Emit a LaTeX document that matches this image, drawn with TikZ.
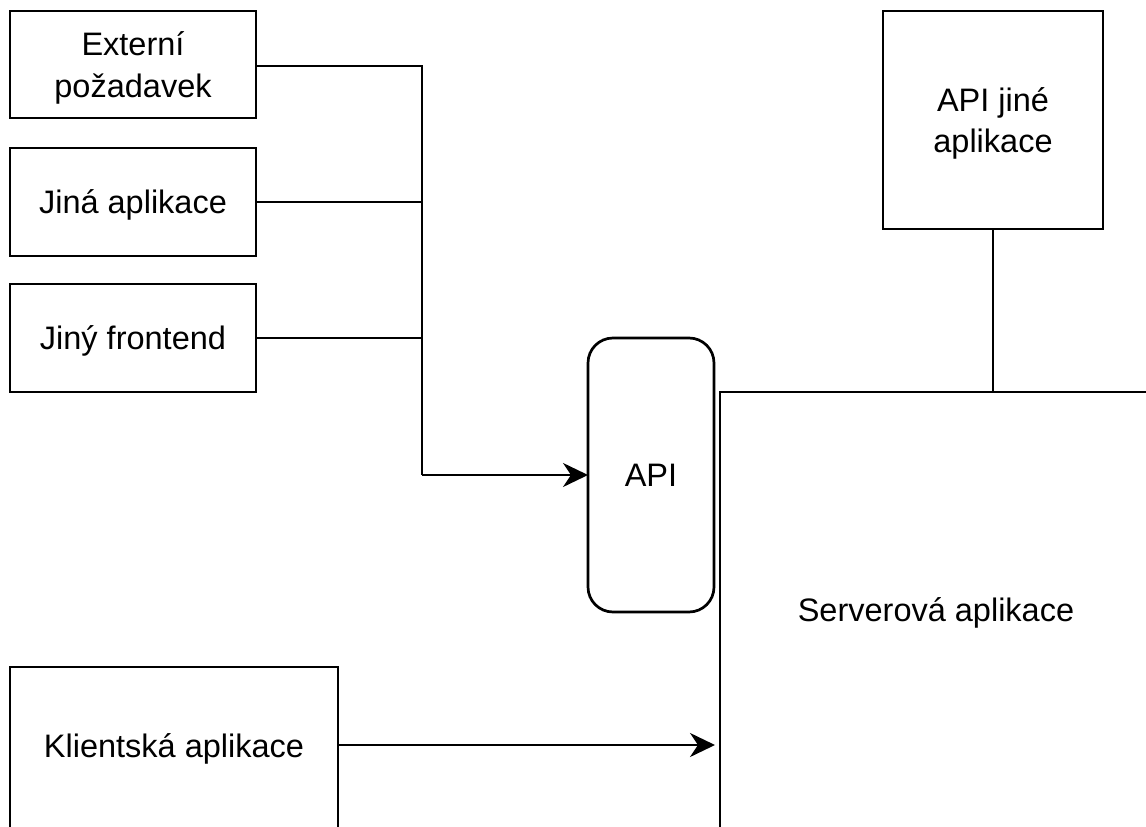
\documentclass[tikz,border=0pt]{standalone}
\usepackage{fontspec}
\setmainfont{Liberation Sans}
\usetikzlibrary{arrows.meta}
\begin{document}
\begin{tikzpicture}[x=1pt,y=-1pt,
  every node/.style={font=\fontsize{32.5}{41.5}\selectfont, inner sep=0pt, outer sep=0pt, text depth=0pt},
  box/.style={draw, line width=2.7pt, rectangle, align=center},
  conn/.style={line width=2.7pt},
  arr/.style={line width=2.7pt, -{Stealth[length=25pt,width=24pt,inset=8pt]}}]
\useasboundingbox (0,0) rectangle (1146,827);
\begin{scope}
\clip (0,0) rectangle (1146,827);
% left boxes
\node[box, minimum width=246pt, minimum height=107pt] (ext) at (133,64.5) {Externí\\požadavek};
\node[box, minimum width=246pt, minimum height=108pt] (jina) at (133,202) {Jiná aplikace};
\node[box, minimum width=246pt, minimum height=108pt] (jiny) at (133,338) {Jiný frontend};
% API
\node[draw, line width=2.7pt, rounded corners=25pt, minimum width=126pt, minimum height=274pt] (api) at (651,475) {API};
% API jine aplikace
\node[box, minimum width=220pt, minimum height=218pt] (apij) at (993,120) {API jiné\\aplikace};
% client
\node[box, minimum width=328pt, minimum height=180pt, anchor=north west] (klient) at (10,667) {};
\node (klientlbl) at (174,746) {Klientská aplikace};
% server
\coordinate (srvtl) at (720,392);
\coordinate (srvbl) at (720,840);
\coordinate (srvtr) at (1160,392);
\draw[conn] (srvbl) -- (srvtl) -- (srvtr);
\node (server) at (936,610) {Serverová aplikace};
% connectors
\coordinate (junc) at (422,475);
\draw[conn] (ext.east |- 0,66) -| (junc);
\draw[conn] (jina.east) -- (jina.east -| junc);
\draw[conn] (jiny.east) -- (jiny.east -| junc);
\draw[arr] (junc) -- (api.west);
\draw[conn] (apij.south) -- (apij.south |- srvtl);
\coordinate (klientarrowend) at (715,745);
\draw[arr] (klient.east |- klientarrowend) -- (klientarrowend);
\end{scope}
\end{tikzpicture}
\end{document}
